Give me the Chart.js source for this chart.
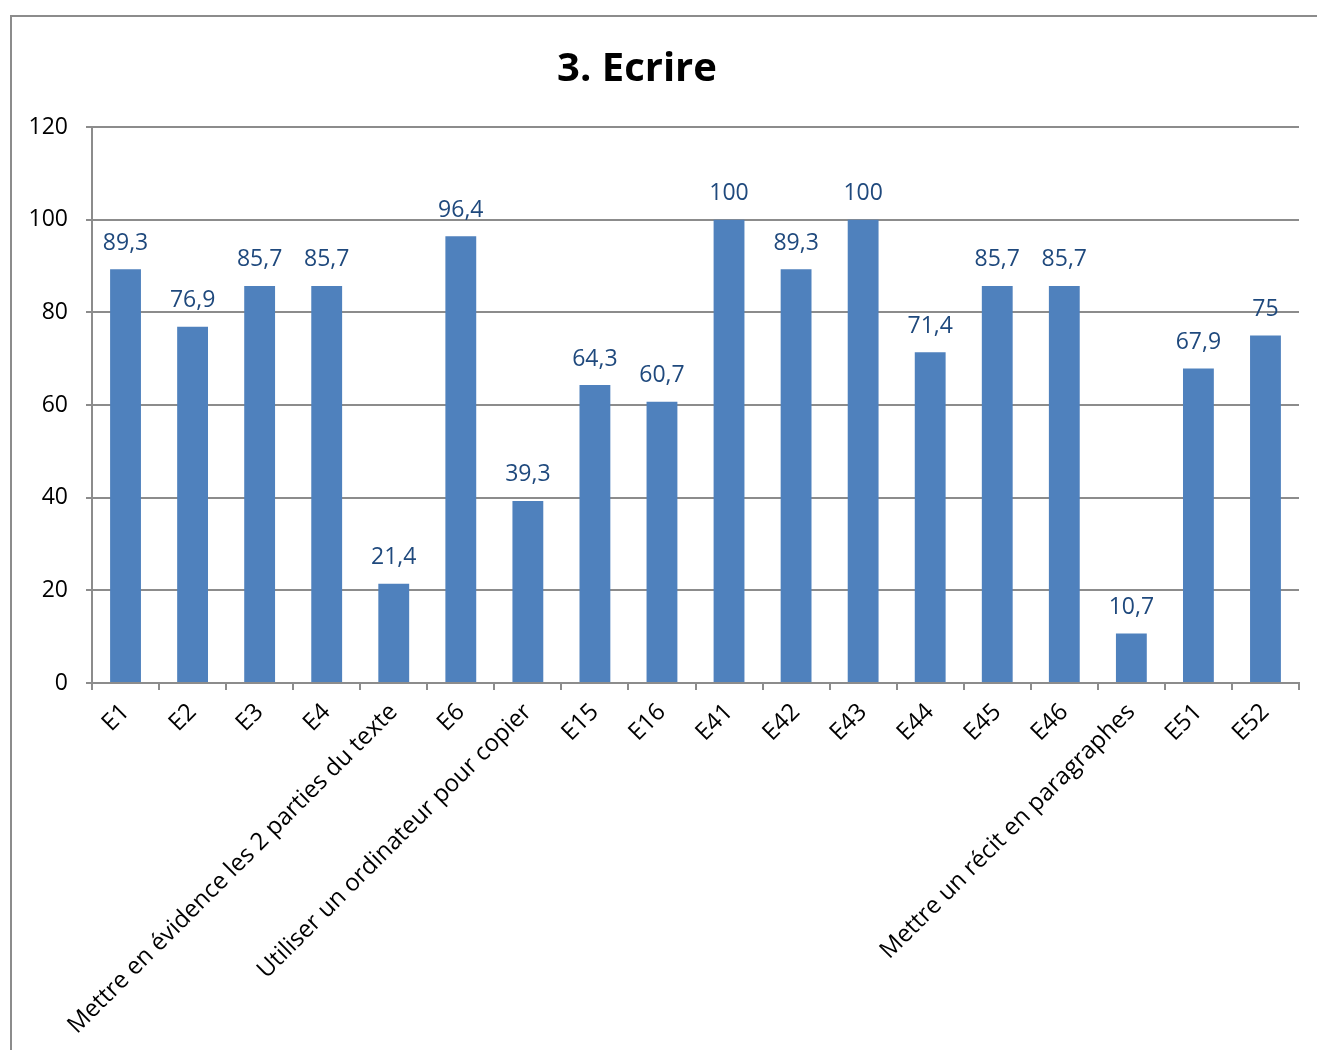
<!DOCTYPE html>
<html>
<head>
<meta charset="utf-8">
<script src="https://cdn.jsdelivr.net/npm/chart.js@4"></script>
<style>
  html, body { margin: 0; padding: 0; background: #fff; }
  #wrap { position: relative; width: 1317px; height: 1050px; overflow: hidden; }
  #frame {
    position: absolute; left: 10px; top: 15px; width: 1400px; height: 1100px;
    border: 2px solid #8c8c8c; box-sizing: border-box;
  }
  canvas { position: absolute; left: 0; top: 0; }
</style>
</head>
<body>
<div id="wrap">
  <div id="frame"></div>
  <canvas id="chart" width="1317" height="1050"></canvas>
</div>
<script>
const TITLE = "3. Ecrire";
const CATEGORIES = [
  "E1", "E2", "E3", "E4",
  "Mettre en évidence les 2 parties du texte",
  "E6",
  "Utiliser un ordinateur pour copier",
  "E15", "E16", "E41", "E42", "E43", "E44", "E45", "E46",
  "Mettre un récit en paragraphes",
  "E51", "E52",
];
const VALUES = [
  89.3, 76.9, 85.7, 85.7, 21.4, 96.4, 39.3, 64.3, 60.7,
  100, 89.3, 100, 71.4, 85.7, 85.7, 10.7, 67.9, 75,
];
const Y_TICKS = [0, 20, 40, 60, 80, 100, 120];

const FONT = '"Open Sans", "Noto Sans", sans-serif';
const BAR = "#4f81bd";
const LABEL_BLUE = "#1f497d";
const GRID = "#8c8c8c";

// valeurs au-dessus des barres, virgule décimale
const valueLabels = {
  id: "valueLabels",
  afterDatasetsDraw(chart) {
    const ctx = chart.ctx;
    const meta = chart.getDatasetMeta(0);
    ctx.save();
    ctx.font = `23px ${FONT}`;
    ctx.fillStyle = LABEL_BLUE;
    ctx.textAlign = "center";
    ctx.textBaseline = "middle";
    meta.data.forEach((bar, i) => {
      const txt = String(VALUES[i]).replace(".", ",");
      ctx.fillText(txt, bar.x, bar.y - 26);
    });
    ctx.restore();
  },
};

// titre centré comme dans l'original
const chartTitle = {
  id: "chartTitle",
  afterDraw(chart) {
    const ctx = chart.ctx;
    ctx.save();
    ctx.font = `bold 40px ${FONT}`;
    ctx.fillStyle = "#000";
    ctx.textAlign = "center";
    ctx.textBaseline = "middle";
    ctx.fillText(TITLE, 637, 70);
    ctx.restore();
  },
};

new Chart(document.getElementById("chart").getContext("2d"), {
  type: "bar",
  data: {
    labels: CATEGORIES,
    datasets: [{
      data: VALUES,
      backgroundColor: BAR,
      borderWidth: 0,
      barPercentage: 0.46,
      categoryPercentage: 1,
    }],
  },
  options: {
    responsive: false,
    animation: false,
    layout: { padding: { top: 127, right: 18, left: 0, bottom: 0 } },
    plugins: {
      legend: { display: false },
      tooltip: { enabled: false },
      title: { display: false },
    },
    scales: {
      x: {
        grid: {
          drawOnChartArea: false,
          drawTicks: true,
          tickLength: 7,
          color: GRID,
          lineWidth: 2,
        },
        border: { color: GRID, width: 2 },
        ticks: {
          color: "#000",
          font: { family: FONT, size: 24 },
          maxRotation: 45,
          minRotation: 45,
          autoSkip: false,
          padding: 8,
        },
        afterFit(scale) { scale.height = 1050 - 683; },
      },
      y: {
        min: 0,
        max: 120,
        afterBuildTicks(scale) { scale.ticks = Y_TICKS.map((v) => ({ value: v })); },
        grid: { color: GRID, lineWidth: 2, tickLength: 6 },
        border: { color: GRID, width: 2 },
        ticks: {
          color: "#000",
          font: { family: FONT, size: 23 },
          padding: 18,
        },
        afterFit(scale) { scale.width = 92; },
      },
    },
  },
  plugins: [valueLabels, chartTitle],
});
</script>
</body>
</html>
